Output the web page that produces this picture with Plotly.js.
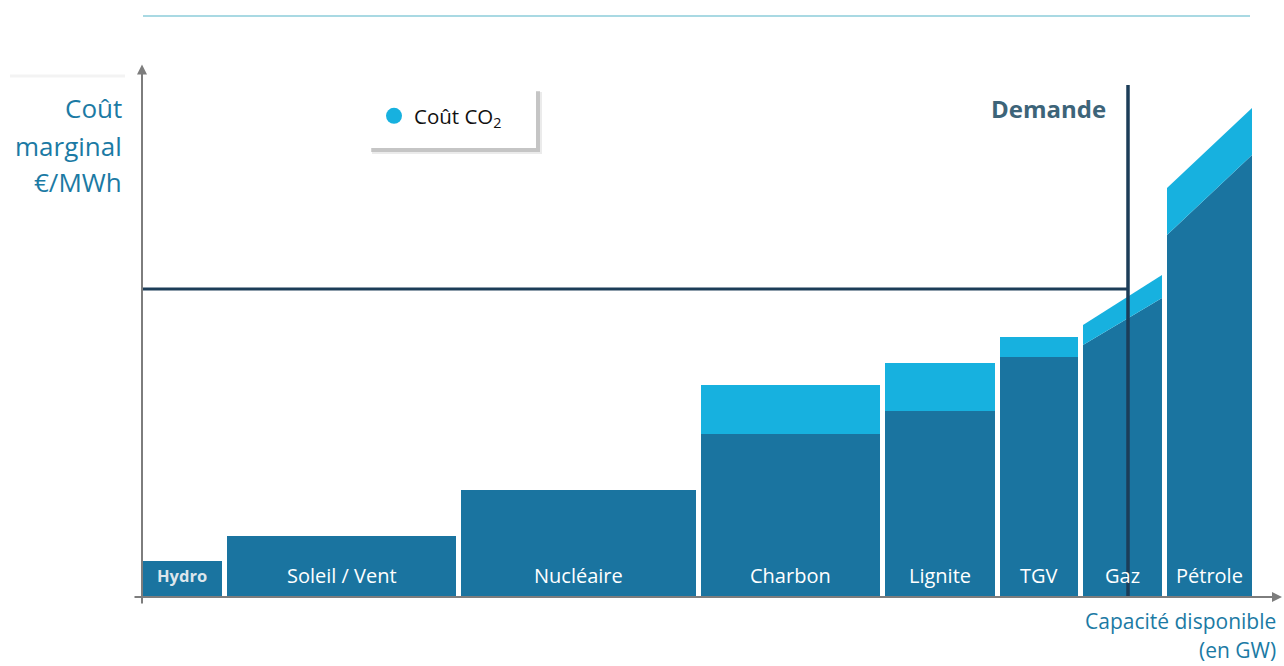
<!DOCTYPE html>
<html>
<head>
<meta charset="utf-8">
<script src="https://cdn.plot.ly/plotly-3.0.1.min.js"></script>
<style>html,body{margin:0;padding:0;background:#fff;}#chart{width:1284px;height:666px;}</style>
</head>
<body>
<div id="chart"></div>
<script>
// ---- Data (arbitrary units) ----
const plants    = ['Hydro', 'Soleil / Vent', 'Nucléaire', 'Charbon', 'Lignite', 'TGV', 'Gaz', 'Pétrole'];
const capacity  = [8.0, 22.9, 23.5, 17.9, 11.0, 7.8, 7.9, 8.5];      // GW (width of each block)
const costStart = [7.2, 12.2, 21.4, 32.6, 37.2, 48.0, 50.4, 72.4];   // €/MWh at left edge (without CO2)
const costEnd   = [7.2, 12.2, 21.4, 32.6, 37.2, 48.0, 59.8, 88.4];   // €/MWh at right edge (without CO2)
const co2Start  = [0, 0, 0, 9.8, 9.6, 4.0, 4.0, 9.4];                // CO2 cost at left edge
const co2End    = [0, 0, 0, 9.8, 9.6, 4.0, 4.6, 9.4];                // CO2 cost at right edge
const demand    = 98.6;   // GW
const price     = 61.6;   // €/MWh (clearing price)
const demandTop = 102.4;
const yTitleLines = ['Coût', 'marginal', '€/MWh'];
const xTitleLines = ['Capacité disponible', '(en GW)'];

// ---- Style ----
const GAP = 0.5;
const DARK = '#1a74a0';
const LIGHT = '#17b1df';
const NAVY = '#1c3d58';
const AXIS = '#7d7d7d';
const TEAL_TXT = '#1b7aa4';
const LABEL_Y = 4.4;
const FONT = 'Open Sans, Noto Sans, sans-serif';

const px = p => (p - 142) / 1142;
const py = p => (597 - p) / 550;

const traces = [];
const annotations = [];
let x0 = 0;
plants.forEach((name, i) => {
  const x1 = x0 + capacity[i];
  traces.push({
    type: 'scatter', mode: 'lines', fill: 'toself', fillcolor: DARK,
    line: {width: 0, color: DARK}, hoverinfo: 'skip', showlegend: false,
    x: [x0, x0, x1, x1, x0], y: [0, costStart[i], costEnd[i], 0, 0]
  });
  if (co2Start[i] > 0 || co2End[i] > 0) {
    traces.push({
      type: 'scatter', mode: 'lines', fill: 'toself', fillcolor: LIGHT,
      line: {width: 0, color: LIGHT}, hoverinfo: 'skip', showlegend: false,
      x: [x0, x0, x1, x1, x0],
      y: [costStart[i], costStart[i] + co2Start[i], costEnd[i] + co2End[i], costEnd[i], costStart[i]]
    });
  }
  const isHydro = i === 0;
  annotations.push({
    x: (x0 + x1) / 2, y: LABEL_Y, xref: 'x', yref: 'y', showarrow: false,
    text: isHydro ? '<b>' + name + '</b>' : name,
    font: {family: FONT, size: isHydro ? 16.5 : 20, color: isHydro ? '#dde6ec' : '#ffffff'}
  });
  x0 = x1 + GAP;
});

// price line & demand line
traces.push({type: 'scatter', mode: 'lines', x: [0, demand], y: [price, price],
  line: {color: NAVY, width: 3}, hoverinfo: 'skip', showlegend: false});
traces.push({type: 'scatter', mode: 'lines', x: [demand, demand], y: [0, demandTop],
  line: {color: NAVY, width: 3.5}, hoverinfo: 'skip', showlegend: false});

// legend entry
traces.push({type: 'scatter', mode: 'markers', x: [null], y: [null], name: 'Coût CO<sub>2</sub>',
  marker: {color: LIGHT, size: 18, symbol: 'circle'}, showlegend: true, hoverinfo: 'skip'});

// axes with arrows
annotations.push({x: 0, y: 106.5, ax: 0, ay: -1.6, xref: 'x', yref: 'y', axref: 'x', ayref: 'y',
  text: '', showarrow: true, arrowhead: 2, arrowsize: 1, arrowwidth: 2, arrowcolor: AXIS});
annotations.push({x: 114.0, y: 0, ax: -0.9, ay: 0, xref: 'x', yref: 'y', axref: 'x', ayref: 'y',
  text: '', showarrow: true, arrowhead: 2, arrowsize: 1, arrowwidth: 2, arrowcolor: AXIS});

// axis titles (one annotation per line to control spacing)
const yLineY = [108, 146, 182];
yTitleLines.forEach((t, k) => annotations.push({xref: 'paper', yref: 'paper', x: px(124), y: py(yLineY[k]),
  xanchor: 'right', yanchor: 'middle', showarrow: false, text: t,
  font: {family: FONT, size: 26, color: TEAL_TXT}}));
const xLineY = [621, 650];
xTitleLines.forEach((t, k) => annotations.push({xref: 'paper', yref: 'paper', x: px(1278), y: py(xLineY[k]),
  xanchor: 'right', yanchor: 'middle', showarrow: false, text: t,
  font: {family: FONT, size: 21, color: TEAL_TXT}}));

annotations.push({xref: 'paper', yref: 'paper', x: px(1108), y: py(109), xanchor: 'right', yanchor: 'middle',
  showarrow: false, text: '<b>Demande</b>', font: {family: FONT, size: 24, color: '#3d6479'}});

const shapes = [
  // top decorative rule
  {type: 'line', xref: 'paper', yref: 'paper', x0: px(143), x1: px(1250), y0: py(16), y1: py(16),
   line: {color: '#a9d9e3', width: 2}},
  {type: 'line', xref: 'paper', yref: 'paper', x0: px(10), x1: px(125), y0: py(76), y1: py(76),
   line: {color: '#f3f3f3', width: 3}},
  // legend box soft shadow + box
  {type: 'rect', xref: 'paper', yref: 'paper', x0: px(372), x1: px(542), y0: py(154), y1: py(92),
   fillcolor: 'rgba(120,120,120,0.15)', line: {width: 0}},
  {type: 'rect', xref: 'paper', yref: 'paper', x0: px(371), x1: px(540), y0: py(152), y1: py(91),
   fillcolor: 'rgba(110,110,110,0.3)', line: {width: 0}},
  {type: 'rect', xref: 'paper', yref: 'paper', x0: px(368), x1: px(536), y0: py(148), y1: py(88),
   fillcolor: '#ffffff', line: {width: 0}}
];

const layout = {
  width: 1284, height: 666,
  margin: {l: 142, r: 0, t: 47, b: 69},
  paper_bgcolor: '#ffffff', plot_bgcolor: '#ffffff',
  xaxis: {range: [0, 114.2], visible: false, fixedrange: true},
  yaxis: {range: [0, 110], visible: false, fixedrange: true},
  showlegend: true,
  legend: {x: px(374), y: py(116), xanchor: 'left', yanchor: 'middle', bgcolor: 'rgba(0,0,0,0)',
    borderwidth: 0, font: {family: FONT, size: 20.5, color: '#111111'}},
  annotations: annotations,
  shapes: shapes,
  hovermode: false
};

Plotly.newPlot('chart', traces, layout, {displayModeBar: false, staticPlot: true});
</script>
</body>
</html>
